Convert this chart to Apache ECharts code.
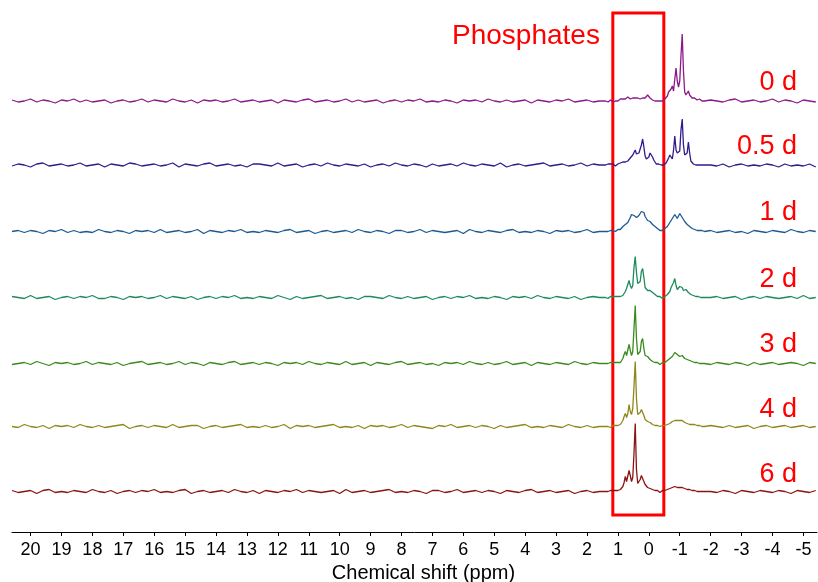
<!DOCTYPE html>
<html>
<head>
<meta charset="utf-8">
<script src="https://cdn.jsdelivr.net/npm/echarts@6/dist/echarts.min.js"></script>
<style>html,body{margin:0;padding:0;background:#fff}#c{width:818px;height:582px}</style>
</head>
<body>
<div id="c"></div>
<script>
// ---------------- DATA ----------------
const dayLabels = ['0 d', '0.5 d', '1 d', '2 d', '3 d', '4 d', '6 d'];
const tickValues = [20, 19, 18, 17, 16, 15, 14, 13, 12, 11, 10, 9, 8, 7, 6, 5, 4, 3, 2, 1, 0, -1, -2, -3, -4, -5];
const annotationText = 'Phosphates';
const axisTitle = 'Chemical shift (ppm)';

// sampling grids (ppm): coarse 20.6 -> 1.6 step 0.2, fine 1.40 -> -1.80 step 0.04, coarse -2.0 -> -5.4 step 0.2
const leftGridStart = 20.6, leftGridStep = 0.2, leftGridCount = 96;
const midGridStart = 1.40, midGridStep = 0.04, midGridCount = 81;
const rightGridStart = -2.0, rightGridStep = 0.2, rightGridCount = 18;

// intensities (arbitrary units)
const d0Left = [1,-1,0,2,-1,1,0,-2,1,0, 2,-1,1,-1,0,1,-2,0,1,-1, 0,2,-1,1,0,-1,2,0,-1,1, -2,1,0,1,-1,0,2,-1,0,1, -1,0,1,-2,1,0,-1,1,2,-1, 0,1,-1,0,2,-1,1,-1,0,1, -2,0,1,-1,1,0,2,-1,0,-1, 1,0,-2,1,0,1,-1,2,0,-1, 1,-1,0,1,-2,1,0,-1,1,0, 2,-1,0,1,-1,0];
const d0Mid = [0,1,-1,0,1,0,-1,1,0,1, 0,1,2,1,2,3,2,3,4,3, 2,2,3,2,3,2,3,3,2,3, 3,4,3,4,6,5,3,2,1,0, 0,1,0,-1,0,1,0,1,2,3, 5,9,7,12,15,10,22,33,20,14, 20,45,67,30,9,6,8,10,6,4, 3,2,3,2,1,1,2,1,0,1,0];
const d0Right = [1,0,-1,1,2,-1,0,1,-1,0,2,-1,1,0,-2,1,0,-1];

const d05Left = [-1,1,0,-2,1,2,-1,0,1,-1, 0,2,-1,0,1,-2,1,0,-1,2, 1,-1,0,1,-1,0,2,-2,1,0, -1,1,2,-1,0,1,-1,0,-2,1, 1,0,-1,2,-1,0,1,-2,0,1, -1,2,0,-1,1,0,-1,1,-2,0, 1,-1,2,0,-1,1,0,-2,1,-1, 0,1,-1,2,0,-1,1,0,-1,2, -2,0,1,-1,0,1,2,-1,0,1, -1,0,2,-1,1,0];
const d05Mid = [0,-1,1,0,1,0,1,0,-1,1, 1,0,2,1,3,4,3,5,4,6, 7,8,10,12,15,11,12,12,14,20, 26,18,9,6,5,8,12,13,8,5, 3,1,0,1,-1,0,1,0,1,2, 3,7,10,8,6,15,29,15,12,13, 14,35,46,20,10,8,12,23,12,4, 2,1,2,0,1,0,1,0,1,0,1];
const d05Right = [0,-1,1,-2,0,1,-1,0,-1,1,0,-2,1,-1,0,-1,1,-2];

const d1Left = [0,1,-1,1,0,-2,1,0,2,-1, 1,-1,0,-1,2,0,-1,1,0,-2, 1,0,1,-1,2,-1,0,1,-1,0, 2,-2,1,0,-1,1,0,2,-1,0, -1,1,0,-1,1,2,-1,0,1,-2, 0,1,-1,0,1,-1,2,0,-1,1, 0,-2,1,1,-1,0,2,-1,1,0, -1,0,1,-2,2,0,-1,1,0,-1, 1,2,-1,0,-1,1,0,-2,1,0, 1,-1,0,2,-1,0];
const d1Mid = [0,1,0,-1,1,0,1,1,0,1, 2,3,2,4,5,6,7,8,9,11, 14,17,18,16,15,14,14,16,18,20, 21,19,15,13,11,12,10,9,7,6, 5,4,3,2,1,0,1,2,3,4, 5,7,9,11,13,15,17,15,13,15, 18,17,14,12,10,9,7,6,5,4, 3,3,2,2,1,2,1,0,1,1,0];
const d1Right = [1,-1,0,1,-1,0,-2,1,0,-1,1,0,-1,2,0,-1,1,0];

const d2Left = [1,0,-1,2,-1,0,1,-2,0,1, -1,1,0,2,-1,-1,1,0,-2,1, 0,1,-1,0,2,-1,1,0,-1,1, -2,0,1,-1,1,0,2,-1,0,-1, 1,0,-1,2,0,-2,1,-1,0,1, 2,-1,0,1,-1,0,-2,1,1,0, -1,2,0,-1,1,-1,0,1,-2,0, 1,-1,1,0,2,-1,0,-1,1,0, -2,1,0,1,-1,2,0,-1,1,0, -1,1,-2,0,1,0];
const d2Mid = [0,1,-1,0,1,0,1,0,1,0, 1,0,1,2,2,3,6,9,7,17, 12,9,12,30,41,25,14,13,16,26, 29,20,10,8,7,8,7,6,5,4, 3,2,1,0,1,0,-1,0,1,2, 3,5,6,10,12,15,19,12,8,9, 11,12,10,7,6,8,7,5,4,3, 3,2,3,1,2,1,1,0,1,0,1];
const d2Right = [0,1,-1,0,1,-2,0,1,-1,1,0,-1,0,1,-1,2,-1,0];

const d3Left = [-1,0,1,-1,2,0,-2,1,0,1, -1,0,2,-1,1,0,-1,1,-2,0, 1,2,-1,0,1,-1,0,2,-1,1, 0,-2,1,0,-1,1,2,-1,0,1, -1,1,0,-2,1,0,1,-1,2,0, -1,1,0,-1,2,-1,0,1,-2,1, 0,-1,1,2,-1,0,1,-1,0,-2, 1,0,1,-1,2,0,-1,1,-1,0, 2,-1,0,1,-2,1,0,-1,1,0, -1,2,0,-1,1,0];
const d3Mid = [0,1,0,-1,1,0,1,0,1,0, 1,2,1,3,5,9,12,8,10,19, 13,8,12,35,58,25,9,7,12,22, 25,15,8,6,7,6,4,3,2,2, 1,0,1,0,-1,0,1,0,1,2, 3,4,5,6,7,9,11,12,9,8, 7,8,8,6,5,6,4,4,3,3, 2,3,1,2,1,1,0,1,0,1,0];
const d3Right = [-1,1,0,-1,1,0,-2,1,-1,0,1,-1,0,1,0,-2,1,0];

const d4Left = [0,-1,2,0,-1,1,-2,1,0,1, -1,2,0,-1,1,-1,0,1,2,-2, 0,1,-1,1,0,-1,2,-1,0,1, 1,-2,0,1,-1,0,1,2,-1,0, -1,1,-1,0,2,-2,1,0,1,-1, 0,1,2,-1,0,-1,1,-2,1,0, 1,-1,0,2,-1,1,0,-1,-2,1, 0,2,-1,0,1,-1,1,0,-2,1, -1,0,1,2,-1,0,-1,1,0,-1, 2,0,-1,1,-1,0];
const d4Mid = [0,1,0,1,-1,0,1,0,1,1, 1,2,2,3,6,10,13,9,13,22, 15,12,18,40,65,28,12,10,14,17, 16,11,7,6,5,4,4,3,2,2, 1,0,1,-1,0,0,1,0,1,2, 2,3,3,4,5,5,6,7,6,7, 6,5,6,5,4,4,3,3,2,2, 2,1,2,1,1,0,1,1,0,1,0];
const d4Right = [1,0,-1,1,-1,0,1,-2,0,1,-1,0,1,-1,0,1,-1,0];

const d6Left = [1,-1,0,1,-2,1,2,-1,0,-1, 1,0,-1,2,0,-1,1,-2,0,1, -1,1,0,2,-1,0,-1,1,2,-2, 0,1,-1,0,1,-1,2,0,-1,1, -2,1,0,-1,1,0,2,-1,1,0, -1,0,1,-2,2,-1,0,1,-1,0, 1,2,-1,0,-1,1,0,-2,1,1, -1,0,2,-1,0,1,-1,1,0,-2, 1,0,-1,1,2,-1,0,1,-1,0, 1,-2,0,1,-1,0];
const d6Mid = [0,1,0,-1,1,0,1,0,1,0, 1,1,2,3,5,9,15,10,12,21, 16,10,14,38,68,22,8,7,12,16, 15,10,7,5,4,4,3,2,2,1, 1,0,1,0,-1,0,1,0,1,1, 2,2,3,3,4,4,5,5,4,5, 4,5,4,3,3,3,2,3,2,2, 1,2,1,1,0,1,0,1,0,1,0];
const d6Right = [0,-1,1,0,-2,1,0,-1,1,0,-1,1,0,-2,1,0,-1,1];

// ---------------- LAYOUT / STYLE ----------------
const seriesColors = ['#8a1a88', '#34198a', '#1d5a92', '#1c8a5a', '#3a8a1c', '#8e881c', '#8a1414'];
const stackOffsets = [431, 367, 300.5, 234.5, 168.5, 105.5, 40.5];
const labelY = [83, 147, 213, 280, 345, 410, 475];
const boxShift = [1.165, -0.485];
const boxLevel = [17, 519];

function grid(start, step, count) {
  const g = [];
  for (let i = 0; i < count; i++) g.push(+(start - step * i).toFixed(3));
  return g;
}
const shifts = grid(leftGridStart, leftGridStep, leftGridCount)
  .concat(grid(midGridStart, midGridStep, midGridCount))
  .concat(grid(rightGridStart, rightGridStep, rightGridCount));

const spectra = [
  d0Left.concat(d0Mid, d0Right),
  d05Left.concat(d05Mid, d05Right),
  d1Left.concat(d1Mid, d1Right),
  d2Left.concat(d2Mid, d2Right),
  d3Left.concat(d3Mid, d3Right),
  d4Left.concat(d4Mid, d4Right),
  d6Left.concat(d6Mid, d6Right)
];

const series = spectra.map((vals, k) => ({
  name: dayLabels[k],
  type: 'line',
  showSymbol: false,
  symbol: 'none',
  sampling: null,
  animation: false,
  lineStyle: { color: seriesColors[k], width: 1.3 },
  data: shifts.map((x, i) => [x, stackOffsets[k] + vals[i]]),
  z: 2
}));

series.push({
  type: 'line',
  data: [],
  z: 10,
  silent: true,
  markArea: {
    silent: true,
    itemStyle: { color: 'rgba(0,0,0,0)', borderColor: '#ff0000', borderWidth: 3 },
    data: [[{ xAxis: boxShift[0], yAxis: boxLevel[0] }, { xAxis: boxShift[1], yAxis: boxLevel[1] }]]
  }
});

const graphics = dayLabels.map((t, k) => ({
  type: 'text',
  right: 21,
  top: labelY[k] - 14,
  style: { text: t, fill: '#ff0000', font: '27px Arial, "Liberation Sans", sans-serif' }
}));
graphics.push({
  type: 'text',
  left: 452,
  top: 22,
  style: { text: annotationText, fill: '#ff0000', font: '28px Arial, "Liberation Sans", sans-serif' }
});

const chart = echarts.init(document.getElementById('c'), null, { renderer: 'canvas' });
chart.setOption({
  animation: false,
  backgroundColor: '#ffffff',
  grid: { left: 12, right: 1, top: 10, bottom: 50, containLabel: false, outerBoundsMode: 'none' },
  xAxis: {
    type: 'value',
    inverse: true,
    min: -5.44,
    max: 20.6,
    name: axisTitle,
    nameLocation: 'middle',
    nameGap: 30,
    nameTextStyle: { fontSize: 20, color: '#000', fontFamily: 'Arial, "Liberation Sans", sans-serif', padding: [0, 0, 0, 18] },
    axisLine: { show: true, onZero: false, lineStyle: { color: '#000', width: 1 } },
    axisTick: { show: true, length: 4, lineStyle: { color: '#000' }, customValues: tickValues },
    axisLabel: { show: true, margin: 9, fontSize: 18, color: '#000', fontFamily: 'Arial, "Liberation Sans", sans-serif', customValues: tickValues, formatter: v => String(v) },
    splitLine: { show: false }
  },
  yAxis: { type: 'value', min: 0, max: 522, show: false },
  series: series,
  graphic: graphics
});
</script>
</body>
</html>
